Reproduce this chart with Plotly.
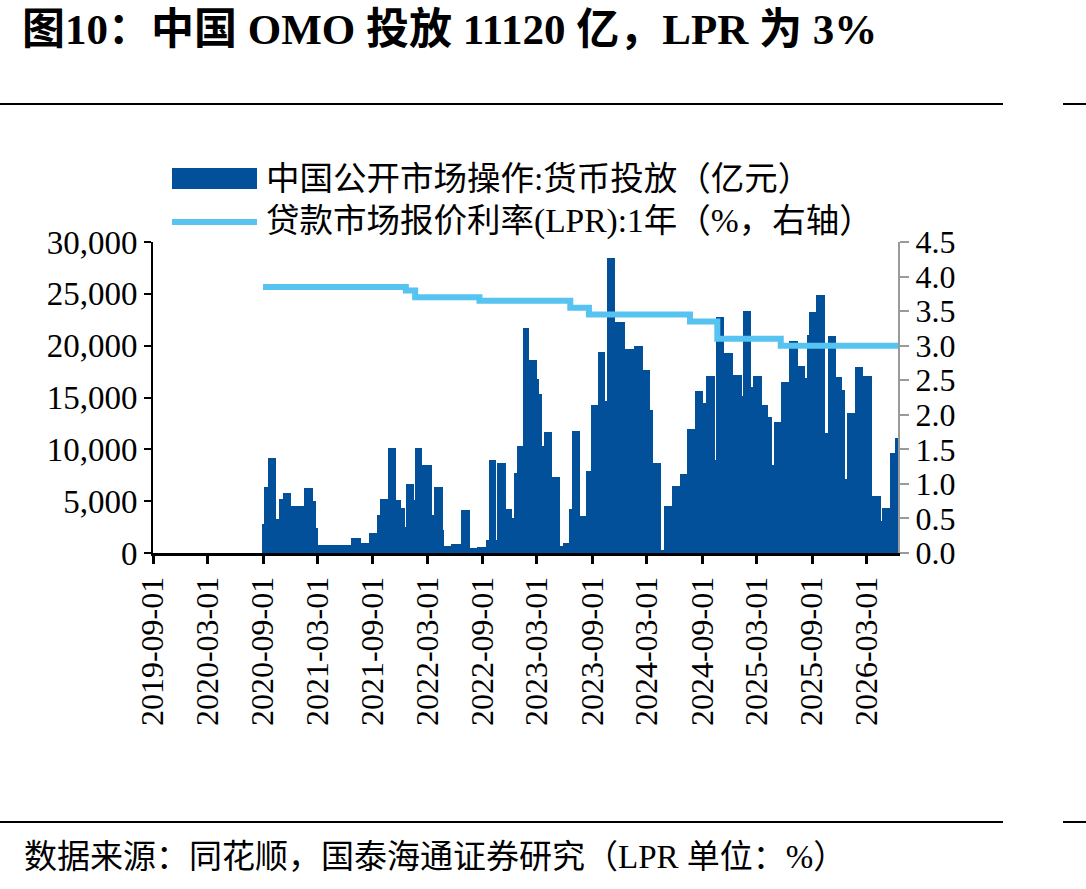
import plotly.graph_objects as go
import pandas as pd

# ---------------- data ----------------
# OMO injection (亿元): step segments, each value holds from its date until the next date
omo_dates = [
    "2020-08-30", "2020-09-05", "2020-09-17", "2020-10-15", "2020-10-23", "2020-11-05",
    "2020-12-03", "2021-01-14", "2021-02-14", "2021-02-25", "2021-03-02", "2021-06-19",
    "2021-07-23", "2021-08-20", "2021-09-16", "2021-09-25", "2021-10-22", "2021-11-18",
    "2021-12-03", "2021-12-16", "2021-12-22", "2022-01-16", "2022-01-20", "2022-02-13",
    "2022-03-18", "2022-03-24", "2022-04-21", "2022-04-24", "2022-05-19", "2022-06-21",
    "2022-07-21", "2022-08-15", "2022-09-12", "2022-09-21", "2022-10-16", "2022-10-20",
    "2022-11-18", "2022-12-07", "2022-12-16", "2022-12-24", "2023-01-13", "2023-02-04",
    "2023-03-02", "2023-03-07", "2023-03-17", "2023-03-24", "2023-04-21", "2023-05-18",
    "2023-05-27", "2023-06-18", "2023-06-24", "2023-07-21", "2023-08-12", "2023-08-27",
    "2023-09-20", "2023-10-14", "2023-10-19", "2023-11-17", "2023-12-20", "2024-01-17",
    "2024-02-17", "2024-03-10", "2024-03-21", "2024-04-18", "2024-04-26", "2024-05-24",
    "2024-06-18", "2024-07-13", "2024-08-07", "2024-09-05", "2024-09-12", "2024-10-13",
    "2024-10-16", "2024-11-12", "2024-12-12", "2025-01-10", "2025-01-16", "2025-02-09",
    "2025-02-18", "2025-03-18", "2025-04-09", "2025-04-20", "2025-04-26", "2025-05-21",
    "2025-06-18", "2025-07-15", "2025-08-09", "2025-08-15", "2025-08-23", "2025-09-15",
    "2025-10-13", "2025-10-23", "2025-11-20", "2025-12-10", "2025-12-21", "2025-12-27",
    "2026-01-21", "2026-02-18", "2026-03-20", "2026-04-17", "2026-04-23", "2026-05-20",
    "2026-06-03",
]
omo_values = [
    2800, 6400, 9200, 3300, 5200, 5800,
    4500, 6300, 5000, 2400, 800, 1400,
    1000, 1900, 3700, 5200, 10100, 5100,
    4300, 2500, 6700, 5100, 10150, 8500,
    3700, 6400, 2200, 700, 900, 4150,
    450, 600, 1250, 8950, 1250, 8700,
    4200, 3350, 7750, 10300, 21750, 18600,
    16750, 15300, 10300, 11700, 7350, 700,
    930, 4200, 11800, 3600, 7900, 14300,
    19400, 14700, 28450, 22300, 19650, 19950,
    17650, 13800, 8700, 300, 4550, 6450,
    7600, 11950, 15650, 14500, 17100, 9000,
    22800, 19250, 17200, 15100, 23300, 16000,
    17050, 14300, 13150, 8500, 12600, 16450,
    20450, 18050, 16900, 21000, 23200, 24900,
    11600, 20950, 17000, 15700, 7100, 13500,
    17900, 17100, 5500, 3100, 4300, 9600,
    11120,
]
series_end = "2026-06-14"

# 1Y LPR (%)
lpr_dates = ["2020-09-01", "2021-12-20", "2022-01-20", "2022-08-22", "2023-06-20",
             "2023-08-21", "2024-07-22", "2024-10-21", "2025-05-20", series_end]
lpr_values = [3.85, 3.80, 3.70, 3.65, 3.55, 3.45, 3.35, 3.10, 3.00, 3.00]

x_ticks = ["2019-09-01", "2020-03-01", "2020-09-01", "2021-03-01", "2021-09-01",
           "2022-03-01", "2022-09-01", "2023-03-01", "2023-09-01", "2024-03-01",
           "2024-09-01", "2025-03-01", "2025-09-01", "2026-03-01"]
y_left_ticks = [0, 5000, 10000, 15000, 20000, 25000, 30000]
y_right_ticks = [0, 0.5, 1.0, 1.5, 2.0, 2.5, 3.0, 3.5, 4.0, 4.5]

title_text = "图10：中国 OMO 投放 11120 亿，LPR 为 3%"
legend_bar = "中国公开市场操作:货币投放（亿元）"
legend_line = "贷款市场报价利率(LPR):1年（%，右轴）"
source_text = "数据来源：同花顺，国泰海通证券研究（LPR 单位：%）"

# ---------------- layout geometry ----------------
W, H = 1086, 889
PL, PR, PT, PB = 153, 898, 242, 553   # plot area in pixels

def px_x(x):
    return (x - PL) / (PR - PL)

def px_y(y):
    return (PB - y) / (PB - PT)

BAR_COLOR = "#02509A"
LINE_COLOR = "#56C3F0"
SERIF = "Liberation Serif, Times New Roman, serif"
CJK = "Liberation Serif, Noto Sans CJK SC, serif"

starts = pd.to_datetime(omo_dates)
ends = list(starts[1:]) + [pd.Timestamp(series_end)]
widths = [(e - s).total_seconds() * 1000 for s, e in zip(starts, ends)]

fig = go.Figure()
fig.add_trace(go.Bar(
    x=omo_dates, y=omo_values, width=widths, offset=0,
    marker=dict(color=BAR_COLOR, line=dict(width=0)),
    name=legend_bar, showlegend=False,
))
fig.add_trace(go.Scatter(
    x=lpr_dates, y=lpr_values, mode="lines", line=dict(color=LINE_COLOR, width=6, shape="hv"),
    yaxis="y2", name=legend_line, showlegend=False,
))

fig.update_layout(
    width=W, height=H,
    margin=dict(l=PL, r=W - PR, t=PT, b=H - PB, pad=0),
    paper_bgcolor="white", plot_bgcolor="white",
    bargap=0,
    showlegend=False,
    xaxis=dict(
        type="date", range=["2019-09-01", series_end],
        tickmode="array", tickvals=x_ticks, ticktext=x_ticks, tickangle=-90,
        ticks="outside", ticklen=8, tickwidth=3, tickcolor="black",
        showline=True, linecolor="black", linewidth=3,
        showgrid=False, zeroline=False,
        tickfont=dict(family=SERIF, size=32, color="black"),
    ),
    yaxis=dict(
        range=[0, 30000], tickmode="array", tickvals=y_left_ticks, tickformat=",",
        ticks="outside", ticklen=7, tickwidth=2, tickcolor="black",
        showline=True, linecolor="black", linewidth=2,
        showgrid=False, zeroline=False,
        tickfont=dict(family=SERIF, size=33, color="black"),
    ),
    yaxis2=dict(
        overlaying="y", side="right", range=[0, 4.5],
        tickmode="array", tickvals=y_right_ticks, tickformat=".1f",
        ticks="outside", ticklen=9, tickwidth=2, tickcolor="#9a9a9a",
        showline=True, linecolor="#9a9a9a", linewidth=2,
        showgrid=False, zeroline=False,
        tickfont=dict(family=SERIF, size=32, color="black"),
    ),
)

shapes = []
# rules above and below the chart
for yy in (104, 822):
    shapes.append(dict(type="line", xref="paper", yref="paper",
                       x0=px_x(0), x1=px_x(1003), y0=px_y(yy), y1=px_y(yy),
                       line=dict(color="black", width=2)))
    shapes.append(dict(type="line", xref="paper", yref="paper",
                       x0=px_x(1063), x1=px_x(1086), y0=px_y(yy), y1=px_y(yy),
                       line=dict(color="black", width=2)))
# legend symbols
shapes.append(dict(type="rect", xref="paper", yref="paper",
                   x0=px_x(172), x1=px_x(257), y0=px_y(189), y1=px_y(168),
                   fillcolor=BAR_COLOR, line=dict(width=0)))
shapes.append(dict(type="line", xref="paper", yref="paper",
                   x0=px_x(172), x1=px_x(257), y0=px_y(222), y1=px_y(222),
                   line=dict(color=LINE_COLOR, width=6)))

annotations = [
    dict(text="<b>" + title_text + "</b>", xref="paper", yref="paper",
         x=px_x(20), y=px_y(30), xanchor="left", yanchor="middle", showarrow=False,
         font=dict(family=CJK, size=43, color="black")),
    dict(text=legend_bar, xref="paper", yref="paper",
         x=px_x(264), y=px_y(178), xanchor="left", yanchor="middle", showarrow=False,
         font=dict(family=CJK, size=33.5, color="black")),
    dict(text=legend_line, xref="paper", yref="paper",
         x=px_x(264), y=px_y(221), xanchor="left", yanchor="middle", showarrow=False,
         font=dict(family=CJK, size=33.5, color="black")),
    dict(text=source_text, xref="paper", yref="paper",
         x=px_x(22), y=px_y(857), xanchor="left", yanchor="middle", showarrow=False,
         font=dict(family=CJK, size=33, color="black")),
]
fig.update_layout(shapes=shapes, annotations=annotations)

fig.write_html("out.html")
